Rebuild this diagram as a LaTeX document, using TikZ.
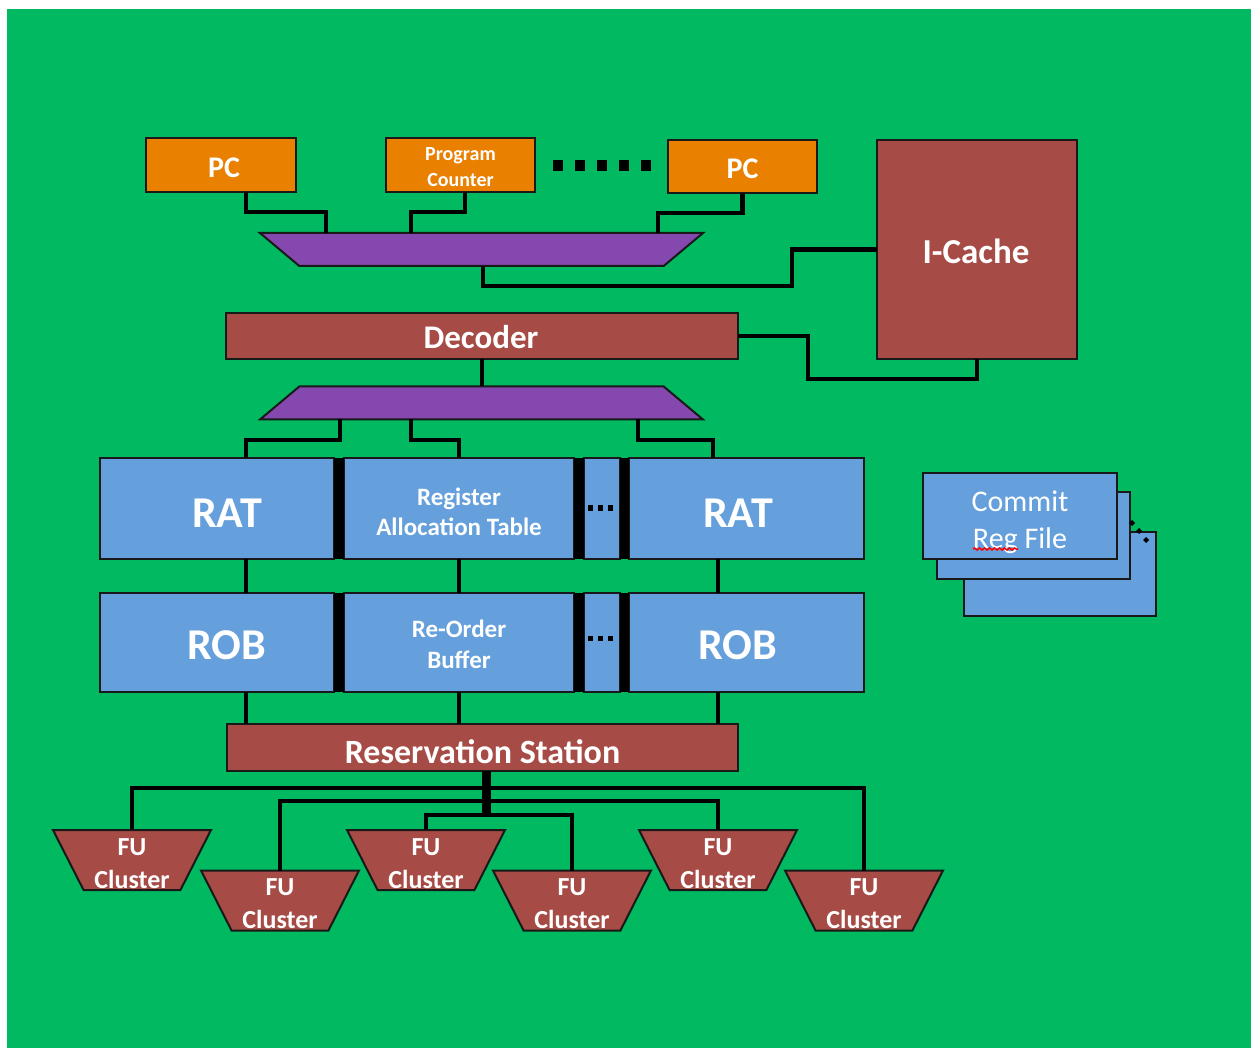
\documentclass[tikz,border=0pt]{standalone}
\usepackage{fontspec}
\setmainfont{Carlito}
\usetikzlibrary{shapes.geometric,decorations.pathmorphing}
\definecolor{bggreen}{RGB}{0,185,96}
\definecolor{pcorange}{RGB}{233,128,0}
\definecolor{boxbrown}{RGB}{166,75,69}
\definecolor{muxpurple}{RGB}{132,72,174}
\definecolor{boxblue}{RGB}{101,160,220}
\definecolor{edgecol}{RGB}{25,25,25}
\newcommand\myfs[2]{\fontsize{#1}{#2}\selectfont}
% place text with its visual centre shifted by (#1 right, #2 down) from the node centre
\newcommand\place[3]{\makebox[0pt]{\hspace*{#1}\hspace*{#1}\raisebox{\dimexpr -#2+0.2\baselineskip-0.572em\relax}[0pt][0pt]{\begin{tabular}{@{}c@{}}#3\end{tabular}}}}
\tikzset{
  blk/.style={draw=edgecol, line width=2pt, inner sep=0pt, outer sep=0pt, text=white},
  pcbox/.style={blk, fill=pcorange},
  brbox/.style={blk, fill=boxbrown},
  blbox/.style={blk, fill=boxblue},
  sepbar/.style={fill=black, inner sep=0pt, outer sep=0pt, minimum width=10pt},
  muxshape/.style={trapezium, trapezium angle=40, trapezium stretches body=true, draw=edgecol, line width=2pt, fill=muxpurple, inner sep=0pt, outer sep=0pt, minimum width=443pt, text height=16.5pt, text depth=16.5pt},
  fushape/.style={trapezium, trapezium angle=63, trapezium stretches body=true, shape border rotate=180, draw=edgecol, line width=2pt, fill=boxbrown, inner sep=0pt, outer sep=0pt, minimum width=158pt, text height=30pt, text depth=30pt, text=white, font=\myfs{26}{33}\bfseries},
  wire/.style={draw=black, line width=4.5pt},
}
\begin{document}
\begin{tikzpicture}[x=1pt,y=-1pt]
\useasboundingbox (0,0) rectangle (1251,1048);
\fill[white] (0,0) rectangle (1251,1048);
\fill[bggreen] (7,9) rectangle (1251,1048);

% program counters
\node[pcbox, minimum width=150pt, minimum height=54pt, font=\myfs{30}{36}\bfseries] (pc1) at (221,165) {\place{3pt}{2pt}{PC}};
\node[pcbox, minimum width=149pt, minimum height=54pt, font=\myfs{20}{26}\bfseries] (pc2) at (460.5,165) {\place{0pt}{2pt}{Program\\Counter}};
\node[pcbox, minimum width=149pt, minimum height=53pt, font=\myfs{30}{36}\bfseries] (pc3) at (742.5,166.5) {\place{0pt}{1.5pt}{PC}};
\foreach \x in {558,580,602,624,646} \fill[black] (\x-5,160) rectangle (\x+5,171);

% I-cache, muxes, decoder
\node[brbox, minimum width=200pt, minimum height=219pt, font=\myfs{35}{42}\bfseries] (icache) at (977,249.5) {\place{-1pt}{0.5pt}{I-Cache}};
\node[muxshape, shape border rotate=180] (mux1) at (481.5,249.5) {};
\node[brbox, minimum width=512pt, minimum height=46pt, font=\myfs{33}{40}\bfseries] (decoder) at (482,336) {\place{-1pt}{0pt}{Decoder}};
\node[muxshape] (mux2) at (481.5,403) {};

% RAT row
\node[blbox, minimum width=234pt, minimum height=101pt, font=\myfs{44}{52}\bfseries] (rat1) at (217,508.5) {\place{10pt}{0pt}{RAT}};
\node[blbox, minimum width=230pt, minimum height=101pt, font=\myfs{25}{30}\bfseries] (rat2) at (459,508.5) {\place{0pt}{3.5pt}{Register\\Allocation Table}};
\node[blbox, minimum width=36pt, minimum height=101pt] (ratd) at (602,508.5) {};
\node[blbox, minimum width=235pt, minimum height=101pt, font=\myfs{44}{52}\bfseries] (rat3) at (746.5,508.5) {\place{-8.5pt}{0pt}{RAT}};
\node[sepbar, minimum height=101pt] (sa1) at (339,508.5) {};
\node[sepbar, minimum height=101pt] (sa2) at (579,508.5) {};
\node[sepbar, minimum height=101pt, minimum width=9pt] (sa3) at (624.5,508.5) {};
\foreach \x in {590,600,610} \fill[black] (\x-2.5,505.5) rectangle (\x+2.5,510.5);

% ROB row
\node[blbox, minimum width=234pt, minimum height=99pt, font=\myfs{44}{52}\bfseries] (rob1) at (217,642.5) {\place{10pt}{-1.5pt}{ROB}};
\node[blbox, minimum width=230pt, minimum height=99pt, font=\myfs{25}{31}\bfseries] (rob2) at (459,642.5) {\place{0pt}{2pt}{Re-Order\\Buffer}};
\node[blbox, minimum width=36pt, minimum height=99pt] (robd) at (602,642.5) {};
\node[blbox, minimum width=235pt, minimum height=99pt, font=\myfs{44}{52}\bfseries] (rob3) at (746.5,642.5) {\place{-9pt}{-1.5pt}{ROB}};
\node[sepbar, minimum height=99pt] (sb1) at (339,642.5) {};
\node[sepbar, minimum height=99pt] (sb2) at (579,642.5) {};
\node[sepbar, minimum height=99pt, minimum width=9pt] (sb3) at (624.5,642.5) {};
\foreach \x in {590,600,610} \fill[black] (\x-2.5,635.5) rectangle (\x+2.5,640.5);

% reservation station
\node[brbox, minimum width=511pt, minimum height=47pt, font=\myfs{34}{40}\bfseries] (rs) at (482.5,747.5) {\place{0pt}{2.5pt}{Reservation Station}};

% FU clusters
\node[fushape] (fu1) at (132,860) {\place{0pt}{3.5pt}{FU\\Cluster}};
\node[fushape] (fu3) at (426,860) {\place{0pt}{3.5pt}{FU\\Cluster}};
\node[fushape] (fu5) at (718,860) {\place{0pt}{3.5pt}{FU\\Cluster}};
\node[fushape] (fu2) at (280,900.5) {\place{0pt}{3pt}{FU\\Cluster}};
\node[fushape] (fu4) at (572,900.5) {\place{0pt}{3pt}{FU\\Cluster}};
\node[fushape] (fu6) at (864,900.5) {\place{0pt}{3pt}{FU\\Cluster}};

% commit register files
\node[blbox, minimum width=192pt, minimum height=84pt] (crf3) at (1060,574) {};
\node[blbox, minimum width=193pt, minimum height=87pt] (crf2) at (1033.5,535.5) {};
\node[blbox, minimum width=194pt, minimum height=86pt, font=\myfs{30}{37}] (crf1) at (1020,516) {\place{0pt}{3pt}{Commit\\Reg File}};
\foreach \x/\y in {1132/523,1139/531,1146/540} \fill[black] (\x,\y-3) -- (\x+3,\y) -- (\x,\y+3) -- (\x-3,\y) -- cycle;
\draw[red, line width=1.5pt, decorate, decoration={snake, amplitude=1pt, segment length=5pt}] (973,549) -- (1018,549);

% connectors
\draw[wire] ([xshift=25pt]pc1.south) |- (326,212) -- (mux1.north -| 326,0);
\draw[wire] ([xshift=4.5pt]pc2.south) |- (411,212) -- (mux1.north -| 411,0);
\draw[wire] (pc3.south) |- (658,213) -- (mux1.north -| 658,0);
\draw[wire] (mux1.south -| 483,0) |- (792,286) |- (icache.west);
\draw[wire] (decoder.east) -| (808,379) -| (icache.south);
\draw[wire] (decoder.south) -- (mux2.north -| decoder.south);
\draw[wire] (mux2.south -| 340,0) |- (246,440) -- (rat1.north -| 246,0);
\draw[wire] (mux2.south -| 411,0) |- (459,440) -- (rat2.north);
\draw[wire] (mux2.south -| 638,0) |- (713,440) -- (rat3.north -| 713,0);
\foreach \x/\a/\b in {246/rat1/rob1, 459/rat2/rob2, 718/rat3/rob3} \draw[wire] (\a.south -| \x,0) -- (\b.north -| \x,0);
\foreach \x/\b in {246/rob1, 459/rob2, 718/rob3} \draw[wire] (\b.south -| \x,0) -- (rs.north -| \x,0);
\draw[wire, line width=9pt] (rs.south -| 486,0) -- (486,817);
\draw[wire] (fu1.north) |- (486,788) -| (fu6.north);
\draw[wire] (fu2.north) |- (486,801) -| (fu5.north);
\draw[wire] (fu3.north) |- (486,815) -| (fu4.north);
\end{tikzpicture}
\end{document}
